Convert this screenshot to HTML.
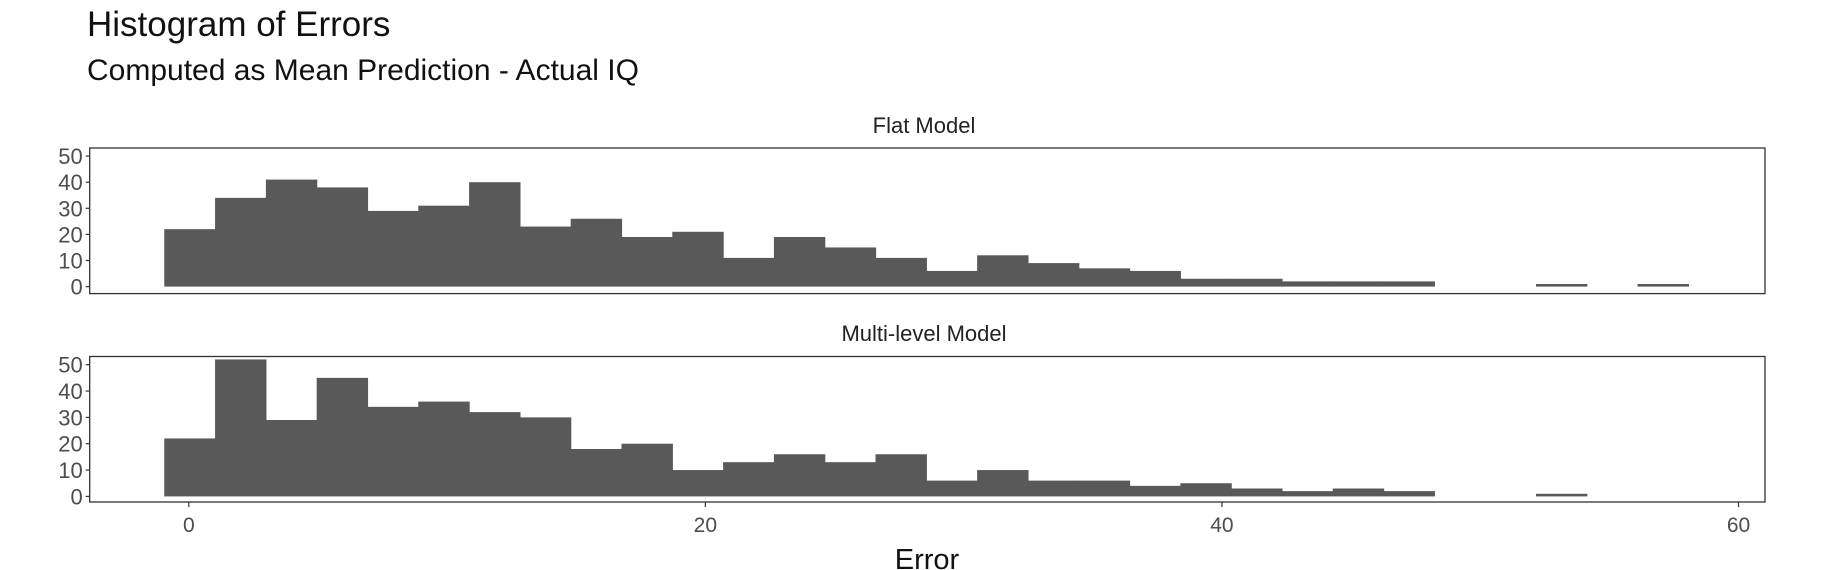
<!DOCTYPE html>
<html><head><meta charset="utf-8"><style>
html,body{margin:0;padding:0;background:#fff;width:1827px;height:570px;overflow:hidden}
svg text{font-family:"Liberation Sans",Arial,sans-serif}
</style></head><body>
<svg id="chart" width="1827" height="570" xmlns="http://www.w3.org/2000/svg">
<text x="87" y="36" font-size="35" fill="#111">Histogram of Errors</text>
<text x="87" y="80" font-size="30" fill="#111">Computed as Mean Prediction - Actual IQ</text>
<g id="plots"></g>
</svg>
<script>
const binStart = -0.95;
const binWidth = 1.967;
const flatCounts = [22,34,41,38,29,31,40,23,26,19,21,11,19,15,11,6,12,9,7,6,3,3,2,2,2,0,0,1,0,1];
const multiCounts = [22,52,29,45,34,36,32,30,18,20,10,13,16,13,16,6,10,6,6,4,5,3,2,3,2,0,0,1,0,0];
const yTicks = [0,10,20,30,40,50];
const xTicks = [0,20,40,60];
const panelTitles = ["Flat Model","Multi-level Model"];

const NS="http://www.w3.org/2000/svg";
const g=document.getElementById('plots');
const xs=v=>188.8+(v-0)*(1738.5-188.8)/60;
const panelLeft=89.7, panelRight=1765;
const panels=[{top:148,bottom:293.6,y0:286.6,y50:156.1,stripY:133,data:flatCounts,name:'flat'},
              {top:356.5,bottom:502,y0:496.4,y50:364.7,stripY:341,data:multiCounts,name:'multi'}];
function mk(tag,attrs){const e=document.createElementNS(NS,tag);for(const k in attrs)e.setAttribute(k,attrs[k]);g.appendChild(e);return e;}
panels.forEach((p,pi)=>{
  const ys=v=>p.y0+(p.y50-p.y0)*v/50;
  const st=mk('text',{x:924,y:p.stripY,'font-size':22,'text-anchor':'middle',fill:'#222'});
  st.textContent=panelTitles[pi];
  
  
  p.data.forEach((c,i)=>{
    if(c<=0)return;
    const x0=xs(binStart+i*binWidth),x1=xs(binStart+(i+1)*binWidth);
    const r=mk('rect',{x:x0,y:ys(c),width:x1-x0+0.6,height:p.y0-ys(c),fill:'#595959'});
    
    
  });
  const b=mk('rect',{x:panelLeft,y:p.top,width:panelRight-panelLeft,height:p.bottom-p.top,fill:'none',stroke:'#333','stroke-width':1.3});
  
  
  yTicks.forEach(t=>{
    const y=ys(t);
    mk('line',{x1:panelLeft-4,x2:panelLeft,y1:y,y2:y,stroke:'#333','stroke-width':1.2});
    const tx=mk('text',{x:panelLeft-7,y:y+8,'font-size':22,'text-anchor':'end',fill:'#4d4d4d'});
    tx.textContent=t;
    
    
  });
});
xTicks.forEach(t=>{
  const x=xs(t);
  mk('line',{x1:x,x2:x,y1:502,y2:507,stroke:'#333','stroke-width':1.2});
  const tx=mk('text',{x:x,y:532,'font-size':21,'text-anchor':'middle',fill:'#4d4d4d'});
  tx.textContent=t;
  
  
});
const xl=mk('text',{x:927,y:569,'font-size':29,'text-anchor':'middle',fill:'#111'});
xl.textContent='Error';


</script>
</body></html>
